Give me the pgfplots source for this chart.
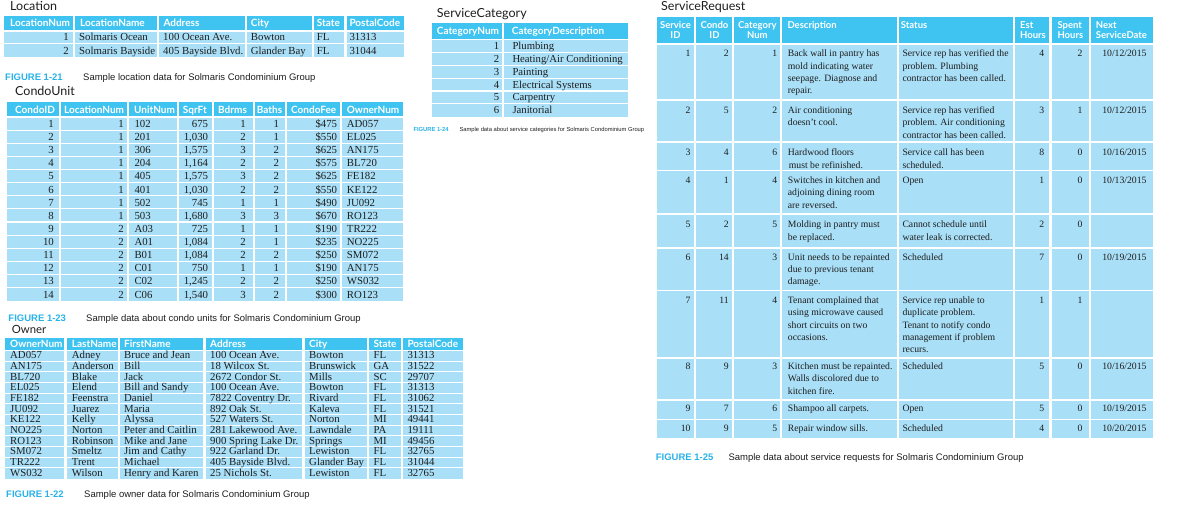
\documentclass[border=0pt]{standalone}
\usepackage{pgfplots}
\pgfplotsset{compat=1.18}
\usepackage{fontspec}
\setmainfont{Liberation Serif}
\newfontfamily\capf{Liberation Sans}
\newfontfamily\hdf{Lato}
\definecolor{hdr}{RGB}{63,196,241}
\definecolor{cel}{RGB}{169,223,247}
\definecolor{figc}{RGB}{40,178,232}
\definecolor{txt}{RGB}{30,30,30}
\newcommand\fLoc{\rmfamily\fontsize{10.8}{12}\selectfont}
\newcommand\fCU{\rmfamily\fontsize{10.8}{12}\selectfont}
\newcommand\fOw{\rmfamily\fontsize{10.8}{12}\selectfont}
\newcommand\fSC{\rmfamily\fontsize{10.7}{12}\selectfont}
\newcommand\fSR{\rmfamily\fontsize{9.7}{12}\selectfont}
\newcommand\fHd{\hdf\bfseries\fontsize{10}{12}\selectfont}
\newcommand\fHs{\hdf\bfseries\fontsize{9.5}{11}\selectfont}
\newcommand\fTi{\hdf\fontsize{12.5}{14}\selectfont}
\newcommand\fTo{\hdf\fontsize{11.3}{13}\selectfont}
\newcommand\fCap{\capf\fontsize{9.5}{11}\selectfont}
\newcommand\fCapB{\capf\bfseries\fontsize{9.5}{11}\selectfont}
\newcommand\fCapT{\capf\fontsize{5.8}{7}\selectfont}
\newcommand\fCapTB{\capf\bfseries\fontsize{5.8}{7}\selectfont}
\tikzset{tw/.style={anchor=base west},te/.style={anchor=base east},tc/.style={anchor=base}}
\newcommand\TX[6]{\node[#1,inner sep=0pt,font=#2,text=#3] at (#4,{#5}) {#6};}
\newcommand\HX[4]{\TX{#1}{\fHd}{white}{#2}{#3}{#4}}
\newcommand\HS[4]{\TX{#1}{\fHs}{white}{#2}{#3}{#4}}
\newcommand\LB[4]{\TX{#1}{\fLoc}{txt}{#2}{#3}{#4}}
\newcommand\CB[4]{\TX{#1}{\fCU}{txt}{#2}{#3}{#4}}
\newcommand\OB[4]{\TX{#1}{\fOw}{txt}{#2}{#3}{#4}}
\newcommand\SB[4]{\TX{#1}{\fSC}{txt}{#2}{#3}{#4}}
\newcommand\RB[4]{\TX{#1}{\fSR}{txt}{#2}{#3}{#4}}
\newcommand\TT[3]{\TX{tw}{\fTi}{txt}{#1}{#2}{#3}}
\newcommand\CAP[5]{\TX{tw}{\fCapB}{figc}{#1}{#3}{FIGURE #4}\TX{tw}{\fCap}{txt}{#2}{#3}{#5}}
% CondoUnit row: k loc unit sqft bd ba fee own
\newcommand\CU[8]{%
 \CB{te}{54}{127.5+13.12*(#1-1)}{#1}%
 \CB{te}{124}{127.5+13.12*(#1-1)}{#2}%
 \CB{tw}{134.3}{127.5+13.12*(#1-1)}{#3}%
 \CB{te}{208.3}{127.5+13.12*(#1-1)}{#4}%
 \CB{te}{246}{127.5+13.12*(#1-1)}{#5}%
 \CB{te}{279.3}{127.5+13.12*(#1-1)}{#6}%
 \CB{te}{337.3}{127.5+13.12*(#1-1)}{\$#7}%
 \CB{tw}{346.7}{127.5+13.12*(#1-1)}{#8}}
% Owner row: k num last first addr city st zip
\newcommand\OW[8]{%
 \OB{tw}{10}{358.8+10.67*(#1-1)}{#2}%
 \OB{tw}{71.7}{358.8+10.67*(#1-1)}{#3}%
 \OB{tw}{124}{358.8+10.67*(#1-1)}{#4}%
 \OB{tw}{210}{358.8+10.67*(#1-1)}{#5}%
 \OB{tw}{309}{358.8+10.67*(#1-1)}{#6}%
 \OB{tw}{373.3}{358.8+10.67*(#1-1)}{#7}%
 \OB{tw}{407.3}{358.8+10.67*(#1-1)}{#8}}
% Service request numbers: y id condo cat est spent date
\newcommand\SR[7]{%
 \RB{te}{690.7}{#1}{#2}\RB{te}{729}{#1}{#3}\RB{te}{777.3}{#1}{#4}%
 \RB{te}{1044.3}{#1}{#5}\RB{te}{1082.7}{#1}{#6}\RB{te}{1146.7}{#1}{#7}}
\begin{document}
\begin{tikzpicture}
\begin{axis}[scale only axis, width=1200pt, height=522pt,
  xmin=0, xmax=1200, ymin=0, ymax=522, y dir=reverse,
  axis lines=none, clip=false]
\path (0,0) rectangle (1200,522);
% ---------------- Location ----------------
\addplot[fill=hdr,draw=none] coordinates {(4,15.7) (404,15.7) (404,31) (4,31)};
\addplot[fill=cel,draw=none] coordinates {(4,31) (404,31) (404,56.7) (4,56.7)};
\draw[white,line width=2.3pt] (73.8,15)--(73.8,57) (157.8,15)--(157.8,57) (246,15)--(246,57) (312.8,15)--(312.8,57) (345.5,15)--(345.5,57);
\draw[white,line width=1.3pt] (4,31)--(404,31) (4,43.8)--(404,43.8);
\TT{10}{10}{Location}
\HX{tw}{10}{27}{LocationNum}\HX{tw}{80}{27}{LocationName}\HX{tw}{163.3}{27}{Address}
\HX{tw}{250.7}{27}{City}\HX{tw}{316.7}{27}{State}\HX{tw}{349.3}{27}{PostalCode}
\LB{te}{69}{40.5}{1}\LB{tw}{79}{40.5}{Solmaris Ocean}\LB{tw}{163}{40.5}{100 Ocean Ave.}
\LB{tw}{250.7}{40.5}{Bowton}\LB{tw}{316.7}{40.5}{FL}\LB{tw}{349.3}{40.5}{31313}
\LB{te}{69}{54}{2}\LB{tw}{79}{54}{Solmaris Bayside}\LB{tw}{163}{54}{405 Bayside Blvd.}
\LB{tw}{250.7}{54}{Glander Bay}\LB{tw}{316.7}{54}{FL}\LB{tw}{349.3}{54}{31044}
\CAP{5}{83}{80}{1-21}{Sample location data for Solmaris Condominium Group}
% ---------------- CondoUnit ----------------
\TT{15}{95.7}{CondoUnit}
\addplot[fill=hdr,draw=none] coordinates {(6.7,102.3) (402.7,102.3) (402.7,117) (6.7,117)};
\addplot[fill=cel,draw=none] coordinates {(6.7,117) (402.7,117) (402.7,300.7) (6.7,300.7)};
\draw[white,line width=2.2pt] (60,100)--(60,302) (128,100)--(128,302) (177.8,100)--(177.8,302) (213,100)--(213,302) (253.7,100)--(253.7,302) (286.2,100)--(286.2,302) (341.2,100)--(341.2,302);
\draw[white,line width=1.5pt] (6,117)--(403,117);
\draw[white,line width=1.2pt] (6,130.1)--(403,130.1) (6,143.2)--(403,143.2) (6,156.4)--(403,156.4) (6,169.5)--(403,169.5) (6,182.6)--(403,182.6) (6,195.7)--(403,195.7) (6,208.8)--(403,208.8) (6,222)--(403,222) (6,235.1)--(403,235.1) (6,248.2)--(403,248.2) (6,261.3)--(403,261.3) (6,274.4)--(403,274.4) (6,287.6)--(403,287.6);
\HX{tw}{15}{113}{CondoID}\HX{tw}{64}{113}{LocationNum}\HX{tw}{134}{113}{UnitNum}\HX{tw}{182.7}{113}{SqrFt}
\HX{tw}{218}{113}{Bdrms}\HX{tw}{256.7}{113}{Baths}\HX{tw}{291}{113}{CondoFee}\HX{tw}{346.7}{113}{OwnerNum}
\CU{1}{1}{102}{675}{1}{1}{475}{AD057}
\CU{2}{1}{201}{1,030}{2}{1}{550}{EL025}
\CU{3}{1}{306}{1,575}{3}{2}{625}{AN175}
\CU{4}{1}{204}{1,164}{2}{2}{575}{BL720}
\CU{5}{1}{405}{1,575}{3}{2}{625}{FE182}
\CU{6}{1}{401}{1,030}{2}{2}{550}{KE122}
\CU{7}{1}{502}{745}{1}{1}{490}{JU092}
\CU{8}{1}{503}{1,680}{3}{3}{670}{RO123}
\CU{9}{2}{A03}{725}{1}{1}{190}{TR222}
\CU{10}{2}{A01}{1,084}{2}{1}{235}{NO225}
\CU{11}{2}{B01}{1,084}{2}{2}{250}{SM072}
\CU{12}{2}{C01}{750}{1}{1}{190}{AN175}
\CU{13}{2}{C02}{1,245}{2}{2}{250}{WS032}
\CU{14}{2}{C06}{1,540}{3}{2}{300}{RO123}
\CAP{8.3}{86}{321.8}{1-23}{Sample data about condo units for Solmaris Condominium Group}
% ---------------- Owner ----------------
\TX{tw}{\fTo}{txt}{11.7}{333.3}{Owner}
\addplot[fill=hdr,draw=none] coordinates {(5,337.7) (462.7,337.7) (462.7,350.5) (5,350.5)};
\addplot[fill=cel,draw=none] coordinates {(5,350.5) (462.7,350.5) (462.7,478.5) (5,478.5)};
\draw[white,line width=2.2pt] (65.5,336)--(65.5,480) (118.8,336)--(118.8,480) (204.5,336)--(204.5,480) (303.5,336)--(303.5,480) (367.8,336)--(367.8,480) (401.8,336)--(401.8,480);
\draw[white,line width=1.5pt] (4,350.5)--(463,350.5);
\draw[white,line width=1pt] (4,361.2)--(463,361.2) (4,371.8)--(463,371.8) (4,382.5)--(463,382.5) (4,393.2)--(463,393.2) (4,403.9)--(463,403.9) (4,414.5)--(463,414.5) (4,425.2)--(463,425.2) (4,435.9)--(463,435.9) (4,446.5)--(463,446.5) (4,457.2)--(463,457.2) (4,467.9)--(463,467.9);
\HX{tw}{10}{347.3}{OwnerNum}\HX{tw}{71.7}{347.3}{LastName}\HX{tw}{124}{347.3}{FirstName}\HX{tw}{210}{347.3}{Address}
\HX{tw}{309}{347.3}{City}\HX{tw}{373.3}{347.3}{State}\HX{tw}{407.3}{347.3}{PostalCode}
\OW{1}{AD057}{Adney}{Bruce and Jean}{100 Ocean Ave.}{Bowton}{FL}{31313}
\OW{2}{AN175}{Anderson}{Bill}{18 Wilcox St.}{Brunswick}{GA}{31522}
\OW{3}{BL720}{Blake}{Jack}{2672 Condor St.}{Mills}{SC}{29707}
\OW{4}{EL025}{Elend}{Bill and Sandy}{100 Ocean Ave.}{Bowton}{FL}{31313}
\OW{5}{FE182}{Feenstra}{Daniel}{7822 Coventry Dr.}{Rivard}{FL}{31062}
\OW{6}{JU092}{Juarez}{Maria}{892 Oak St.}{Kaleva}{FL}{31521}
\OW{7}{KE122}{Kelly}{Alyssa}{527 Waters St.}{Norton}{MI}{49441}
\OW{8}{NO225}{Norton}{Peter and Caitlin}{281 Lakewood Ave.}{Lawndale}{PA}{19111}
\OW{9}{RO123}{Robinson}{Mike and Jane}{900 Spring Lake Dr.}{Springs}{MI}{49456}
\OW{10}{SM072}{Smeltz}{Jim and Cathy}{922 Garland Dr.}{Lewiston}{FL}{32765}
\OW{11}{TR222}{Trent}{Michael}{405 Bayside Blvd.}{Glander Bay}{FL}{31044}
\OW{12}{WS032}{Wilson}{Henry and Karen}{25 Nichols St.}{Lewiston}{FL}{32765}
\CAP{6}{84}{497.7}{1-22}{Sample owner data for Solmaris Condominium Group}
% ---------------- ServiceCategory ----------------
\TT{436.7}{17.3}{ServiceCategory}
\addplot[fill=hdr,draw=none] coordinates {(431.7,23.3) (628.3,23.3) (628.3,39.6) (431.7,39.6)};
\addplot[fill=cel,draw=none] coordinates {(431.7,39.6) (628.3,39.6) (628.3,116.7) (431.7,116.7)};
\draw[white,line width=2.3pt] (502.8,22)--(502.8,118);
\draw[white,line width=1.5pt] (431,39.6)--(629,39.6);
\draw[white,line width=1.2pt] (431,52.45)--(629,52.45) (431,65.3)--(629,65.3) (431,78.15)--(629,78.15) (431,91)--(629,91) (431,103.85)--(629,103.85);
\HX{tw}{436.7}{34.8}{CategoryNum}\HX{tw}{511.7}{34.8}{CategoryDescription}
\SB{te}{499.3}{49.5}{1}\SB{tw}{512.3}{49.5}{Plumbing}
\SB{te}{499.3}{62.35}{2}\SB{tw}{512.3}{62.35}{Heating/Air Conditioning}
\SB{te}{499.3}{75.2}{3}\SB{tw}{512.3}{75.2}{Painting}
\SB{te}{499.3}{88.05}{4}\SB{tw}{512.3}{88.05}{Electrical Systems}
\SB{te}{499.3}{100.9}{5}\SB{tw}{512.3}{100.9}{Carpentry}
\SB{te}{499.3}{113.75}{6}\SB{tw}{512.3}{113.75}{Janitorial}
\TX{tw}{\fCapTB}{figc}{413.3}{131}{FIGURE 1-24}
\TX{tw}{\fCapT}{txt}{459.3}{131}{Sample data about service categories for Solmaris Condominium Group}
% ---------------- ServiceRequest ----------------
\TT{661}{10.7}{ServiceRequest}
\addplot[fill=hdr,draw=none] coordinates {(656.7,16.7) (1153.3,16.7) (1153.3,43.8) (656.7,43.8)};
\addplot[fill=cel,draw=none] coordinates {(656.7,43.8) (1153.3,43.8) (1153.3,438.3) (656.7,438.3)};
\draw[white,line width=2.3pt] (695.2,15)--(695.2,440) (732.8,15)--(732.8,440) (781.3,15)--(781.3,440) (897.7,15)--(897.7,440) (1013.7,15)--(1013.7,440) (1050.5,15)--(1050.5,440) (1090.2,15)--(1090.2,440);
\draw[white,line width=2pt] (656,43.8)--(1154,43.8);
\draw[white,line width=1.6pt] (656,99.8)--(1154,99.8) (656,142.2)--(1154,142.2) (656,170.5)--(1154,170.5) (656,213.8)--(1154,213.8) (656,247.8)--(1154,247.8) (656,290.5)--(1154,290.5) (656,357.8)--(1154,357.8) (656,399.8)--(1154,399.8) (656,419.5)--(1154,419.5);
\HS{tc}{675.5}{28.5}{Service}\HS{tc}{675.5}{38.5}{ID}
\HS{tc}{714.5}{28.5}{Condo}\HS{tc}{714.5}{38.5}{ID}
\HS{tc}{757.3}{28.5}{Category}\HS{tc}{757.3}{38.5}{Num}
\HS{tw}{787.3}{28.5}{Description}\HS{tw}{900.7}{28.5}{Status}
\HS{tw}{1020}{28.5}{Est}\HS{tw}{1020}{38.5}{Hours}
\HS{tw}{1057.3}{28.5}{Spent}\HS{tw}{1057.3}{38.5}{Hours}
\HS{tw}{1095.7}{28.5}{Next}\HS{tw}{1095.7}{38.5}{ServiceDate}
% row 1
\SR{56.6}{1}{2}{1}{4}{2}{10/12/2015}
\RB{tw}{787.7}{56.6}{Back wall in pantry has}\RB{tw}{787.7}{69}{mold indicating water}
\RB{tw}{787.7}{81.4}{seepage. Diagnose and}\RB{tw}{787.7}{93.8}{repair.}
\RB{tw}{902.3}{56.6}{Service rep has verified the}\RB{tw}{902.3}{69}{problem. Plumbing}
\RB{tw}{902.3}{81.4}{contractor has been called.}
% row 2
\SR{113.3}{2}{5}{2}{3}{1}{10/12/2015}
\RB{tw}{787.7}{113.3}{Air conditioning}\RB{tw}{787.7}{125.7}{doesn’t cool.}
\RB{tw}{902.3}{113.3}{Service rep has verified}\RB{tw}{902.3}{125.7}{problem. Air conditioning}
\RB{tw}{902.3}{138.1}{contractor has been called.}
% row 3
\SR{155.6}{3}{4}{6}{8}{0}{10/16/2015}
\RB{tw}{787.7}{155.6}{Hardwood floors}\RB{tw}{788.7}{168}{must be refinished.}
\RB{tw}{902.3}{155.6}{Service call has been}\RB{tw}{902.3}{168}{scheduled.}
% row 4
\SR{183.3}{4}{1}{4}{1}{0}{10/13/2015}
\RB{tw}{787.7}{183.3}{Switches in kitchen and}\RB{tw}{787.7}{195.7}{adjoining dining room}
\RB{tw}{787.7}{208.1}{are reversed.}
\RB{tw}{902.3}{183.3}{Open}
% row 5
\SR{227.6}{5}{2}{5}{2}{0}{}
\RB{tw}{787.7}{227.6}{Molding in pantry must}\RB{tw}{787.7}{240}{be replaced.}
\RB{tw}{902.3}{227.6}{Cannot schedule until}\RB{tw}{902.3}{240}{water leak is corrected.}
% row 6
\SR{260}{6}{14}{3}{7}{0}{10/19/2015}
\RB{tw}{787.7}{260}{Unit needs to be repainted}\RB{tw}{787.7}{272.4}{due to previous tenant}
\RB{tw}{787.7}{284.8}{damage.}
\RB{tw}{902.3}{260}{Scheduled}
% row 7
\SR{303.3}{7}{11}{4}{1}{1}{}
\RB{tw}{787.7}{303.3}{Tenant complained that}\RB{tw}{787.7}{315.7}{using microwave caused}
\RB{tw}{787.7}{328.1}{short circuits on two}\RB{tw}{787.7}{340.5}{occasions.}
\RB{tw}{902.3}{303.3}{Service rep unable to}\RB{tw}{902.3}{315.7}{duplicate problem.}
\RB{tw}{902.3}{328.1}{Tenant to notify condo}\RB{tw}{902.3}{340.5}{management if problem}
\RB{tw}{902.3}{352.9}{recurs.}
% row 8
\SR{369.3}{8}{9}{3}{5}{0}{10/16/2015}
\RB{tw}{787.7}{369.3}{Kitchen must be repainted.}\RB{tw}{787.7}{381.7}{Walls discolored due to}
\RB{tw}{787.7}{394.1}{kitchen fire.}
\RB{tw}{902.3}{369.3}{Scheduled}
% row 9
\SR{411.6}{9}{7}{6}{5}{0}{10/19/2015}
\RB{tw}{787.7}{411.6}{Shampoo all carpets.}\RB{tw}{902.3}{411.6}{Open}
% row 10
\SR{431.6}{10}{9}{5}{4}{0}{10/20/2015}
\RB{tw}{787.7}{431.6}{Repair window sills.}\RB{tw}{902.3}{431.6}{Scheduled}
\CAP{655.7}{728.3}{460.7}{1-25}{Sample data about service requests for Solmaris Condominium Group}
\end{axis}
\end{tikzpicture}
\end{document}
